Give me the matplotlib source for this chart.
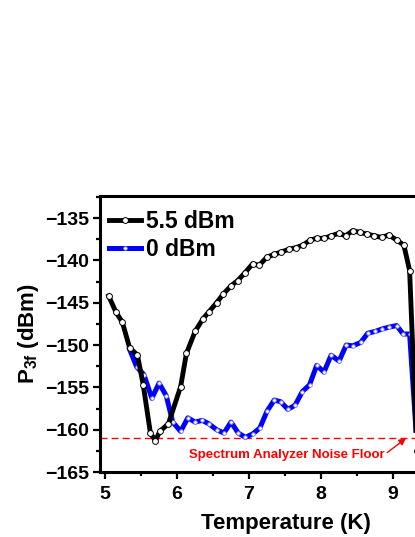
import matplotlib
matplotlib.use("Agg")
import matplotlib.pyplot as plt
from matplotlib.ticker import MultipleLocator, FixedLocator

plt.rcParams['font.family'] = ['Liberation Sans', 'DejaVu Sans']
plt.rcParams['font.weight'] = 'bold'
plt.rcParams['mathtext.fontset'] = 'custom'
plt.rcParams['mathtext.rm'] = 'Liberation Sans:bold'
plt.rcParams['mathtext.bf'] = 'Liberation Sans:bold'
plt.rcParams['mathtext.it'] = 'Liberation Sans:bold'
plt.rcParams['mathtext.default'] = 'rm'

# 5.5 dBm series
t_hi = [5.05, 5.15, 5.24, 5.34, 5.45, 5.53, 5.63, 5.70, 5.76, 5.88, 6.05, 6.13,
        6.25, 6.36, 6.44, 6.55, 6.64, 6.75, 6.84, 6.94, 7.05, 7.14, 7.25, 7.35,
        7.45, 7.55, 7.65, 7.75, 7.85, 7.94, 8.04, 8.14, 8.25, 8.34, 8.44, 8.54,
        8.64, 8.74, 8.84, 8.94, 9.05, 9.15, 9.23, 9.33]
p_hi = [-144.2, -146.1, -147.3, -150.3, -151.2, -154.7, -160.4, -161.3, -160.2,
        -159.3, -154.9, -151.0, -148.4, -146.9, -146.1, -145.0, -144.0, -143.0,
        -142.4, -141.5, -140.4, -140.6, -139.6, -139.3, -139.0, -138.7, -138.5,
        -138.2, -137.6, -137.4, -137.4, -137.1, -136.8, -137.1, -136.5, -136.7,
        -136.9, -137.1, -137.3, -137.0, -137.6, -138.2, -141.2, -162.5]

# 0 dBm series
t_lo = [5.34, 5.44, 5.54, 5.65, 5.75, 5.85, 5.94, 6.05, 6.15, 6.25, 6.35, 6.44,
        6.55, 6.65, 6.75, 6.85, 6.95, 7.05, 7.15, 7.25, 7.35, 7.44, 7.54, 7.64,
        7.74, 7.84, 7.94, 8.04, 8.14, 8.25, 8.35, 8.44, 8.55, 8.65, 8.75, 8.85,
        8.94, 9.05, 9.14, 9.23, 9.33]
p_lo = [-150.5, -152.6, -153.5, -156.3, -154.5, -156.0, -159.1, -160.2, -158.6,
        -159.1, -158.9, -159.3, -160.0, -160.4, -159.1, -160.4, -160.9, -160.5,
        -159.8, -157.8, -156.5, -156.7, -157.6, -157.1, -155.5, -154.7, -152.4,
        -153.2, -151.2, -151.9, -150.0, -150.1, -149.7, -148.6, -148.4, -148.1,
        -147.9, -147.7, -148.7, -148.7, -161.5]

x_ticks = [5, 6, 7, 8, 9]
labels = ["5.5 dBm", "0 dBm"]
noise_floor = -161.0
noise_text = "Spectrum Analyzer Noise Floor"

fig = plt.figure(figsize=(4.15, 5.37), dpi=100)
xmin, xmax = 4.93, 10.1
ax = fig.add_axes([0.241, 0.121, (xmax - xmin) * 72 / 415, 0.514])

ax.plot(t_lo, p_lo, color='#0000ff', lw=3.6, marker='o', ms=2.6,
        mfc='white', mec='#8080ff', mew=0.6, label=labels[1], zorder=3)
ax.plot(t_hi, p_hi, color='black', lw=3.5, marker='o', ms=4.2,
        mfc='white', mec='black', mew=0.7, label=labels[0], zorder=4)

ax.hlines(noise_floor, xmin, 9.3, colors='red', linestyles=(0, (5, 3)), lw=1.0, zorder=2)
ax.text(7.53, -163.3, noise_text, color='red', fontsize=9.5, fontweight='bold',
        ha='center', va='baseline')
ax.annotate('', xy=(9.18, -161.0), xytext=(8.92, -162.7),
            arrowprops=dict(arrowstyle='-|>', color='red', lw=1.0,
                            mutation_scale=10, shrinkA=0, shrinkB=0))

ax.set_xlim(xmin, xmax)
ax.set_ylim(-165, -132.4)
ax.xaxis.set_major_locator(FixedLocator(x_ticks))
ax.xaxis.set_minor_locator(MultipleLocator(0.5))
ax.yaxis.set_major_locator(MultipleLocator(5))
ax.yaxis.set_minor_locator(MultipleLocator(2.5))
ax.tick_params(which='major', direction='out', length=5, width=1.6,
               labelsize=14, pad=3)
ax.tick_params(which='minor', direction='out', length=3, width=1.6)
ax.tick_params(axis='x', which='major', pad=5)
ax.tick_params(right=False, top=False)
for lab in ax.get_xticklabels() + ax.get_yticklabels():
    lab.set_fontweight('bold')
for sp in ax.spines.values():
    sp.set_linewidth(2.2)

ax.set_xlabel("Temperature (K)", fontsize=16, fontweight='bold', labelpad=7)
ax.set_ylabel("P$_{3f}$ (dBm)", fontsize=16, fontweight='bold', labelpad=3)

handles, labs = ax.get_legend_handles_labels()
leg = ax.legend([handles[1], handles[0]], [labs[1], labs[0]], loc='upper left',
                bbox_to_anchor=(0.0, 0.982), frameon=False, numpoints=1,
                handlelength=1.4, handletextpad=0.2, labelspacing=0.22,
                borderaxespad=0.0, prop={'size': 16.5, 'weight': 'bold'})

fig.savefig("out.png", dpi=100)
